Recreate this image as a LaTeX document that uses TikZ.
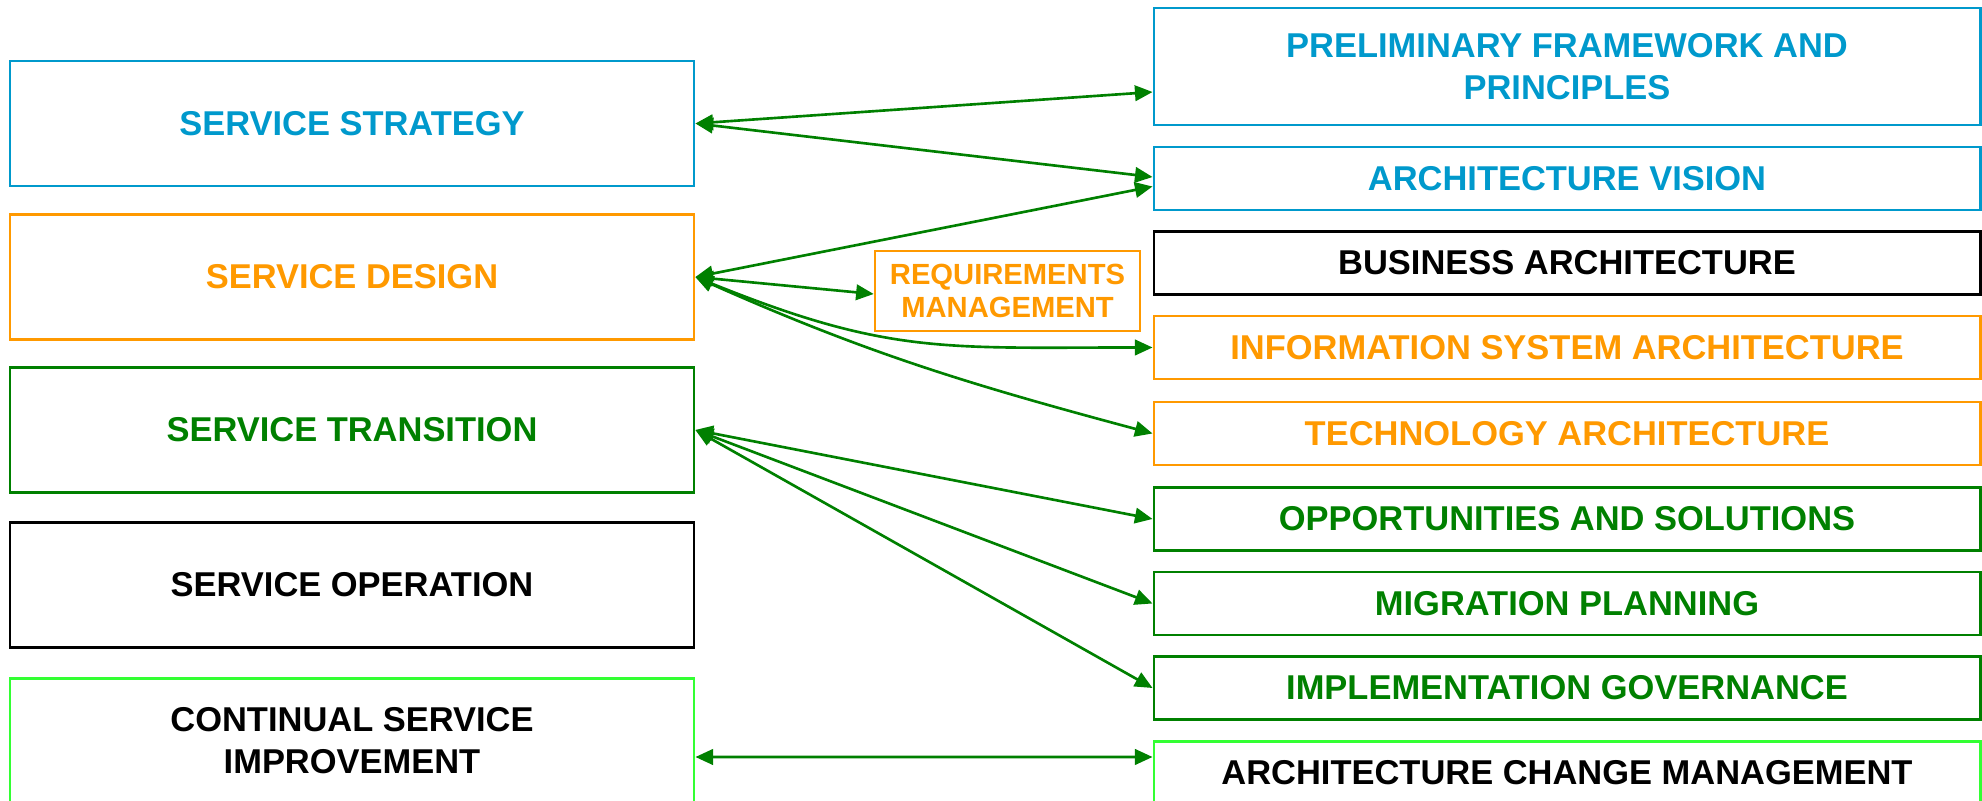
\documentclass[tikz,border=0pt]{standalone}
\usepackage{fontspec}
\setmainfont{Liberation Sans}
\usetikzlibrary{arrows.meta}
\definecolor{itilblue}{RGB}{0,153,204}
\definecolor{itilorange}{RGB}{255,153,0}
\definecolor{itilgreen}{RGB}{0,128,0}
\definecolor{itillime}{RGB}{51,255,51}

\begin{document}
\begin{tikzpicture}[x=0.01cm,y=-0.01cm,
    phase/.style={draw, line width=0.7pt, align=center, inner sep=0pt,
        font=\fontsize{9.8}{12}\selectfont\bfseries},
    itil/.style={phase, minimum width=6.84cm, minimum height=1.25cm},
    togaf/.style={phase, minimum width=8.26cm, minimum height=0.63cm},
    link/.style={itilgreen, line width=0.75pt,
        {Triangle[length=5pt,width=4.4pt]}-{Triangle[length=5pt,width=4.4pt]}}]
    \clip (0,0) rectangle (1982,801);
    % ITIL stages
    \node[itil, draw=itilblue, text=itilblue] (ss) at (352,123.5) {SERVICE STRATEGY};
    \node[itil, draw=itilorange, text=itilorange] (sd) at (352,277) {SERVICE DESIGN};
    \node[itil, draw=itilgreen, text=itilgreen] (st) at (352,430) {SERVICE TRANSITION};
    \node[itil, draw=black] (so) at (352,585) {SERVICE OPERATION};
    \node[itil, draw=itillime] (csi) at (352,741) {CONTINUAL SERVICE\\IMPROVEMENT};
    % TOGAF phases
    \node[togaf, draw=itilblue, text=itilblue, minimum height=1.17cm] (pf) at (1567,66.5) {PRELIMINARY FRAMEWORK AND\\PRINCIPLES};
    \node[togaf, draw=itilblue, text=itilblue] (av) at (1567,178.5) {ARCHITECTURE VISION};
    \node[togaf, draw=black] (ba) at (1567,263) {BUSINESS ARCHITECTURE};
    \node[togaf, draw=itilorange, text=itilorange] (isa) at (1567,347.5) {INFORMATION SYSTEM ARCHITECTURE};
    \node[togaf, draw=itilorange, text=itilorange] (ta) at (1567,433.5) {TECHNOLOGY ARCHITECTURE};
    \node[togaf, draw=itilgreen, text=itilgreen] (os) at (1567,519) {OPPORTUNITIES AND SOLUTIONS};
    \node[togaf, draw=itilgreen, text=itilgreen] (mp) at (1567,603.5) {MIGRATION PLANNING};
    \node[togaf, draw=itilgreen, text=itilgreen] (ig) at (1567,688) {IMPLEMENTATION GOVERNANCE};
    \node[togaf, draw=itillime] (acm) at (1567,773) {ARCHITECTURE CHANGE MANAGEMENT};
    \node[phase, draw=itilorange, text=itilorange, minimum width=2.65cm, minimum height=0.8cm,
        font=\fontsize{8.3}{9.6}\selectfont\bfseries] (rm) at (1007.5,291) {REQUIREMENTS\\MANAGEMENT};
    % links
    \draw[link] (ss.east) -- ([yshift=-0.255cm]pf.west);
    \draw[link] (ss.east) -- ([yshift=0.015cm]av.west);
    \draw[link] (sd.east) -- ([yshift=-0.08cm]av.west);
    \draw[link] (sd.east) -- ([yshift=-0.03cm]rm.west);
    \draw[link] (sd.east) to[out=-22,in=180,looseness=1.15] (isa.west);
    \draw[link] (sd.east) to[out=-24,in=165] (ta.west);
    \draw[link] (st.east) -- (os.west);
    \draw[link] (st.east) -- (mp.west);
    \draw[link] (st.east) -- (ig.west);
    \draw[link] ([yshift=-0.16cm]csi.east) -- ([yshift=0.16cm]acm.west);
\end{tikzpicture}
\end{document}
